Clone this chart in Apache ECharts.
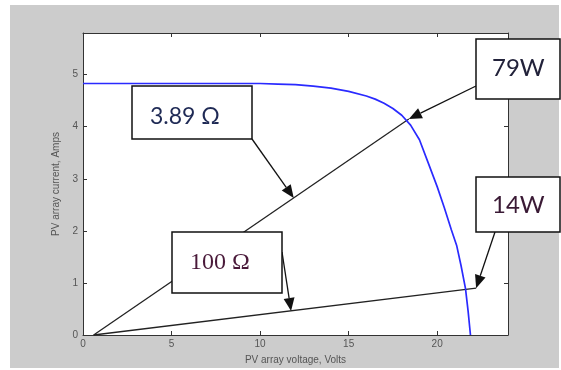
<!DOCTYPE html>
<html lang="en">
<head>
  <meta charset="UTF-8">
  <title>PV array I-V curve</title>
  <style>
    body { margin: 0; background: #fff; }
    #bg { position: absolute; left: 10px; top: 5px; width: 549px; height: 363px; background: #cccccc; }
    #main { position: absolute; left: 0; top: 0; width: 561px; height: 370px; }
  </style>
</head>
<body>
  <div id="bg"></div>
  <div id="main"></div>
  <script src="https://cdn.jsdelivr.net/npm/echarts@6/dist/echarts.min.js"></script>
  <script>
    // I-V curve of the PV array
    const voltage = [0, 2, 4, 6, 8, 10, 11, 12, 13, 14, 15, 16, 16.5, 17, 17.5, 18, 18.5, 19, 19.5, 20, 20.4, 20.8, 21.1, 21.35, 21.6, 21.75, 21.88];
    const current = [4.83, 4.83, 4.83, 4.83, 4.83, 4.83, 4.82, 4.81, 4.78, 4.74, 4.68, 4.59, 4.53, 4.45, 4.35, 4.22, 4.03, 3.75, 3.3, 2.85, 2.45, 2.02, 1.72, 1.33, 0.89, 0.45, 0];

    // load lines
    const load389V = [0.6, 18.4];
    const load389I = [0, 4.15];
    const load100V = [0.6, 22.2];
    const load100I = [0, 0.9];

    const xTicks = [0, 5, 10, 15, 20];
    const yTicks = [0, 1, 2, 3, 4, 5];

    // annotation texts and the data point each arrow points to
    const noteText = ['3.89 Ω', '100 Ω', '79W', '14W'];
    const noteTarget = [[11.9, 2.63], [11.75, 0.46], [18.4, 4.15], [22.2, 0.9]];

    const pairs = (xs, ys) => xs.map((x, i) => [x, ys[i]]);

    let myChart = echarts.init(document.getElementById('main'));

    const frame = '#333';
    function xAx(pos, withLabels) {
      return {
        type: 'value', position: pos, min: 0, max: 24,
        axisLine: { show: true, onZero: false, lineStyle: { color: frame, width: 1 } },
        axisTick: { show: true, inside: true, length: 4, customValues: xTicks, lineStyle: { color: frame } },
        axisLabel: { show: withLabels, customValues: xTicks, color: '#555', fontSize: 10, fontFamily: 'Liberation Sans', margin: 4 },
        splitLine: { show: false },
        name: withLabels ? 'PV array voltage, Volts' : '',
        nameLocation: 'middle', nameGap: 20,
        nameTextStyle: { color: '#555', fontSize: 10, fontFamily: 'Liberation Sans' }
      };
    }
    function yAx(pos, withLabels) {
      return {
        type: 'value', position: pos, min: 0, max: 5.8,
        axisLine: { show: true, onZero: false, lineStyle: { color: frame, width: 1 } },
        axisTick: { show: true, inside: true, length: 4, customValues: yTicks, lineStyle: { color: frame } },
        axisLabel: { show: withLabels, customValues: yTicks, color: '#555', fontSize: 10, fontFamily: 'Liberation Sans', margin: 5 },
        splitLine: { show: false },
        name: withLabels ? 'PV array current, Amps' : '',
        nameLocation: 'middle', nameGap: 22,
        nameTextStyle: { color: '#555', fontSize: 10, fontFamily: 'Liberation Sans' }
      };
    }

    let option = {
      backgroundColor: 'transparent',
      animation: false,
      grid: { left: 83, right: 53, top: 33, bottom: 34, show: true, backgroundColor: '#fff', borderWidth: 0 },
      xAxis: [xAx('bottom', true), xAx('top', false)],
      yAxis: [yAx('left', true), yAx('right', false)],
      series: [
        {
          type: 'line', data: pairs(voltage, current), showSymbol: false, z: 3,
          lineStyle: { color: '#2a2aff', width: 1.7 }
        },
        {
          type: 'line', data: pairs(load389V, load389I), showSymbol: false, z: 2,
          lineStyle: { color: '#222', width: 1.3 }
        },
        {
          type: 'line', data: pairs(load100V, load100I), showSymbol: false, z: 2,
          lineStyle: { color: '#222', width: 1.3 }
        }
      ]
    };
    myChart.setOption(option);

    // ====== boxes + arrows ======
    const boxes = [
      { x: 132, y: 86, w: 120, h: 53, tx: 150, ty: 117, font: '23px Lato', color: '#1f2a55', from: [252, 139] },
      { x: 172, y: 232, w: 110, h: 61, tx: 190, ty: 263, font: '24px "Liberation Serif"', color: '#4a1a3a', from: [282, 252] },
      { x: 476, y: 39, w: 84, h: 60, tx: 492, ty: 68, font: '24px Lato', color: '#22223a', from: [476, 86] },
      { x: 476, y: 177, w: 84, h: 55, tx: 492, ty: 205, font: '24px Lato', color: '#3a1a35', from: [495, 232] }
    ];

    function arrow(p0, p1) {
      const dx = p1[0] - p0[0], dy = p1[1] - p0[1];
      const len = Math.sqrt(dx * dx + dy * dy);
      const ux = dx / len, uy = dy / len;
      const hl = 13, hw = 5.5;
      const bx = p1[0] - ux * hl, by = p1[1] - uy * hl;
      return [
        { type: 'line', z: 20, shape: { x1: p0[0], y1: p0[1], x2: bx, y2: by }, style: { stroke: '#111', lineWidth: 1.3 } },
        { type: 'polygon', z: 20, shape: { points: [[p1[0], p1[1]], [bx - uy * hw, by + ux * hw], [bx + uy * hw, by - ux * hw]] }, style: { fill: '#111' } }
      ];
    }

    let elements = [];
    boxes.forEach((b, i) => {
      const tip = myChart.convertToPixel({ xAxisIndex: 0, yAxisIndex: 0 }, noteTarget[i]);
      elements = elements.concat(arrow(b.from, tip));
      elements.push({ type: 'rect', z: 30, shape: { x: b.x, y: b.y, width: b.w, height: b.h }, style: { fill: '#fff', stroke: '#111', lineWidth: 1.5 } });
      elements.push({ type: 'text', z: 31, x: b.tx, y: b.ty, style: { text: noteText[i], font: b.font, fill: b.color, verticalAlign: 'middle' } });
    });
    myChart.setOption({ graphic: elements });
  </script>
</body>
</html>
